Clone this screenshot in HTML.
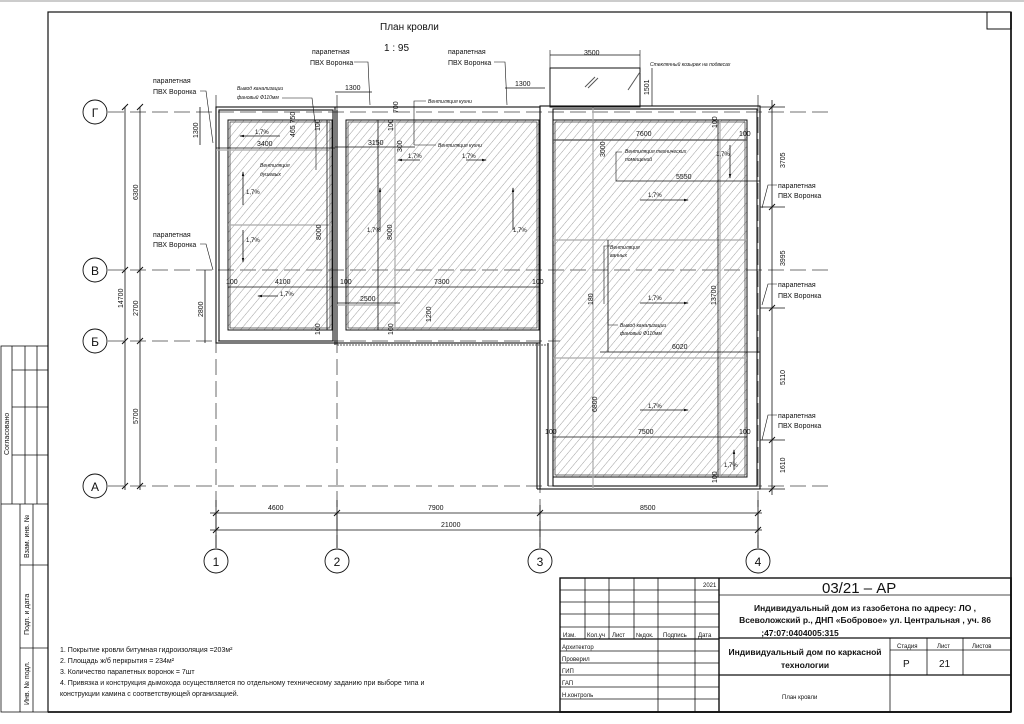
<!DOCTYPE html>
<html><head><meta charset="utf-8"><style>
html,body{margin:0;padding:0;background:#fff;}
svg{display:block;}
text{font-family:"Liberation Sans","DejaVu Sans",sans-serif;fill:#111;}
</style></head><body>
<svg width="1024" height="724" viewBox="0 0 1024 724" xmlns="http://www.w3.org/2000/svg">
<defs>
<pattern id="h" patternUnits="userSpaceOnUse" width="6" height="6" patternTransform="rotate(40)">
<line x1="0" y1="0" x2="0" y2="6" stroke="#888" stroke-width="0.8"/>
</pattern>
<marker id="a" markerWidth="6" markerHeight="6" refX="5" refY="3" orient="auto"><path d="M0,1.5 L6,3 L0,4.5z" fill="#111"/></marker>
</defs>
<rect width="1024" height="724" fill="#fff"/>
<line x1="0" y1="1" x2="1024" y2="1" stroke="#999" stroke-width="1"/>
<rect x="48" y="12" width="963" height="700" fill="none" stroke="#111" stroke-width="1.2"/>
<line x1="1011" y1="12" x2="1011" y2="712" stroke="#333" stroke-width="2"/>
<line x1="48" y1="712" x2="1011" y2="712" stroke="#333" stroke-width="2"/>
<rect x="987" y="12" width="24" height="17" fill="none" stroke="#111"/>
<g stroke="#111" stroke-width="0.8" fill="none">
<rect x="1" y="346" width="47" height="366"/>
<line x1="12" y1="346" x2="12" y2="504"/><line x1="25" y1="346" x2="25" y2="504"/><line x1="37" y1="346" x2="37" y2="504"/>
<line x1="12" y1="370" x2="48" y2="370"/><line x1="12" y1="407" x2="48" y2="407"/><line x1="12" y1="455" x2="48" y2="455"/>
<line x1="1" y1="504" x2="48" y2="504"/>
<line x1="20" y1="504" x2="20" y2="712"/><line x1="33" y1="504" x2="33" y2="712"/>
<line x1="20" y1="565" x2="48" y2="565"/><line x1="20" y1="648" x2="48" y2="648"/>
</g>
<g font-size="7">
<text transform="translate(9,455) rotate(-90)">Согласовано</text>
<text transform="translate(29,558) rotate(-90)">Взам. инв. №</text>
<text transform="translate(29,635) rotate(-90)">Подп. и дата</text>
<text transform="translate(29,705) rotate(-90)">Инв. № подл.</text>
</g>
<text x="380" y="30" font-size="10">План кровли</text>
<text x="384" y="51" font-size="10">1 : 95</text>

<g stroke="#444" stroke-width="0.8" stroke-dasharray="16,6" fill="none">
<line x1="108" y1="112" x2="830" y2="112"/>
<line x1="108" y1="270" x2="830" y2="270"/>
<line x1="108" y1="341" x2="560" y2="341"/>
<line x1="108" y1="486" x2="830" y2="486"/>
<line x1="216" y1="95" x2="216" y2="548"/>
<line x1="337" y1="95" x2="337" y2="548"/>
<line x1="540" y1="345" x2="540" y2="548"/>
<line x1="758" y1="95" x2="758" y2="548"/>
</g>
<g fill="#fff" stroke="#111" stroke-width="0.9">
<circle cx="95" cy="112" r="12"/><circle cx="95" cy="270" r="12"/><circle cx="95" cy="341" r="12"/><circle cx="95" cy="486" r="12"/>
<circle cx="216" cy="561" r="12"/><circle cx="337" cy="561" r="12"/><circle cx="540" cy="561" r="12"/><circle cx="758" cy="561" r="12"/>
</g>
<g font-size="12" text-anchor="middle">
<text x="95" y="117">Г</text><text x="95" y="275">В</text><text x="95" y="346">Б</text><text x="95" y="491">А</text>
<text x="216" y="566">1</text><text x="337" y="566">2</text><text x="540" y="566">3</text><text x="758" y="566">4</text>
</g>

<g fill="none" stroke="#111" stroke-width="1.1">
<rect x="216" y="107" width="324" height="236"/>
<rect x="219" y="110" width="114" height="231"/>
<line x1="335" y1="107" x2="335" y2="345"/>
<line x1="337" y1="110" x2="337" y2="345"/>
<rect x="540" y="106" width="220" height="383"/>
<rect x="553" y="109" width="204" height="377"/>
<line x1="537" y1="343" x2="537" y2="489"/><line x1="537" y1="489" x2="540" y2="489"/>
<line x1="548" y1="343" x2="548" y2="486"/>
</g>
<line x1="337" y1="345" x2="548" y2="345" stroke="#555" stroke-dasharray="2,1"/>
<g stroke="#111" stroke-width="1">
<rect x="228" y="120" width="104" height="210" fill="url(#h)"/>
<rect x="346" y="120" width="193" height="210" fill="url(#h)"/>
<rect x="553" y="120" width="194" height="357" fill="url(#h)"/>
</g>
<g fill="none" stroke="#111" stroke-width="0.6">
<rect x="230" y="122" width="100" height="206"/>
<rect x="348" y="122" width="189" height="206"/>
<rect x="555" y="122" width="190" height="353"/>
</g>
<g stroke="#aaa" stroke-width="1.2">
<line x1="228" y1="225" x2="332" y2="225"/>
<line x1="395" y1="120" x2="395" y2="330"/>
<line x1="553" y1="240" x2="747" y2="240"/>
<line x1="553" y1="358" x2="747" y2="358"/>
<line x1="720" y1="120" x2="720" y2="477"/>
<line x1="593" y1="107" x2="593" y2="489"/>
<line x1="553" y1="140" x2="747" y2="140"/>
<line x1="216" y1="150" x2="332" y2="150"/>
<line x1="337" y1="305" x2="395" y2="305"/>
</g>
<rect x="550" y="68" width="90" height="39" fill="none" stroke="#111"/>
<line x1="550" y1="55" x2="640" y2="55" stroke="#111" stroke-width="0.8"/>
<line x1="550" y1="50" x2="550" y2="68" stroke="#111" stroke-width="0.6"/>
<line x1="640" y1="50" x2="640" y2="68" stroke="#111" stroke-width="0.6"/>
<line x1="585" y1="87" x2="595" y2="77" stroke="#555"/><line x1="588" y1="88" x2="598" y2="78" stroke="#555"/><line x1="628" y1="90" x2="640" y2="72" stroke="#555"/>
<line x1="652" y1="68" x2="652" y2="106" stroke="#111" stroke-width="0.7"/>
<g font-size="7">
<text x="584" y="55">3500</text>
<text transform="translate(649,95) rotate(-90)">1501</text>
<text x="650" y="66" font-size="5" font-style="italic">Стеклянный козырек на подвесах</text>
</g>

<g stroke="#111" stroke-width="0.8" fill="none">
<line x1="125" y1="107" x2="125" y2="490"/>
<line x1="140" y1="107" x2="140" y2="490"/>
<line x1="200" y1="107" x2="200" y2="145"/>
<line x1="205" y1="270" x2="205" y2="343"/>
<line x1="210" y1="513" x2="762" y2="513"/>
<line x1="210" y1="530" x2="762" y2="530"/>
<line x1="216" y1="500" x2="216" y2="548"/><line x1="337" y1="500" x2="337" y2="548"/><line x1="540" y1="505" x2="540" y2="548"/><line x1="758" y1="500" x2="758" y2="548"/>
<line x1="772" y1="100" x2="772" y2="495"/>
<line x1="760" y1="107" x2="785" y2="107"/><line x1="760" y1="207" x2="785" y2="207"/><line x1="760" y1="308" x2="785" y2="308"/><line x1="760" y1="440" x2="785" y2="440"/><line x1="760" y1="489" x2="785" y2="489"/>
<line x1="335" y1="92" x2="372" y2="92"/>
<line x1="505" y1="88" x2="545" y2="88"/>
<line x1="216" y1="148" x2="335" y2="148"/>
<line x1="335" y1="147" x2="415" y2="147"/>
<line x1="228" y1="287" x2="539" y2="287"/>
<line x1="337" y1="303" x2="400" y2="303"/>
<line x1="616" y1="181" x2="760" y2="181"/>
<line x1="600" y1="352" x2="760" y2="352"/>
<line x1="553" y1="437" x2="747" y2="437"/>
<line x1="553" y1="140" x2="747" y2="140"/>
<line x1="327" y1="120" x2="327" y2="330"/>
<line x1="378" y1="120" x2="378" y2="330"/>
<line x1="718" y1="120" x2="718" y2="477"/>
<line x1="608" y1="240" x2="608" y2="352"/>
</g>
<g stroke="#111" stroke-width="1">
<path d="M122,110l6,-6M122,273l6,-6M122,344l6,-6M122,489l6,-6M137,110l6,-6M137,273l6,-6M137,344l6,-6M137,489l6,-6"/>
<path d="M213,516l6,-6M334,516l6,-6M537,516l6,-6M755,516l6,-6M213,533l6,-6M755,533l6,-6"/>
<path d="M769,110l6,-6M769,210l6,-6M769,311l6,-6M769,443l6,-6M769,492l6,-6"/>
</g>
<g font-size="7">
<text transform="translate(123,308) rotate(-90)">14700</text>
<text transform="translate(138,200) rotate(-90)">6300</text>
<text transform="translate(138,316) rotate(-90)">2700</text>
<text transform="translate(138,424) rotate(-90)">5700</text>
<text transform="translate(198,138) rotate(-90)">1300</text>
<text transform="translate(203,317) rotate(-90)">2800</text>
<text x="268" y="510">4600</text><text x="428" y="510">7900</text><text x="640" y="510">8500</text>
<text x="441" y="527">21000</text>
<text transform="translate(785,168) rotate(-90)">3705</text>
<text transform="translate(785,266) rotate(-90)">3995</text>
<text transform="translate(785,385) rotate(-90)">5110</text>
<text transform="translate(785,473) rotate(-90)">1610</text>
<text x="345" y="90">1300</text><text x="515" y="86">1300</text>
<text x="257" y="146">3400</text><text x="368" y="145">3150</text>
<text x="275" y="284">4100</text><text x="434" y="284">7300</text>
<text x="226" y="284">100</text><text x="340" y="284">100</text><text x="532" y="284">100</text>
<text x="360" y="301">2500</text>
<text x="636" y="136">7600</text><text x="676" y="179">5550</text>
<text x="672" y="349">6020</text><text x="638" y="434">7500</text>
<text x="545" y="434">100</text><text x="739" y="434">100</text>
<text x="739" y="136">100</text>
<text transform="translate(321,240) rotate(-90)">8000</text>
<text transform="translate(392,240) rotate(-90)">8000</text>
<text transform="translate(605,157) rotate(-90)">3000</text>
<text transform="translate(716,305) rotate(-90)">13700</text>
<text transform="translate(597,412) rotate(-90)">6800</text>
<text transform="translate(593,305) rotate(-90)">180</text>
<text transform="translate(398,113) rotate(-90)">700</text>
<text transform="translate(402,152) rotate(-90)">300</text>
<text transform="translate(431,322) rotate(-90)">1200</text>
<text transform="translate(320,131) rotate(-90)">100</text>
<text transform="translate(393,131) rotate(-90)">100</text>
<text transform="translate(717,128) rotate(-90)">100</text>
<text transform="translate(320,335) rotate(-90)">100</text>
<text transform="translate(393,335) rotate(-90)">100</text>
<text transform="translate(717,483) rotate(-90)">100</text>
<text transform="translate(295,137) rotate(-90)">465 750</text>
</g>
<g stroke="#111" stroke-width="0.8" marker-end="url(#a)">
<line x1="280" y1="136" x2="240" y2="136"/>
<line x1="243" y1="205" x2="243" y2="172"/>
<line x1="243" y1="230" x2="243" y2="262"/>
<line x1="278" y1="296" x2="258" y2="296"/>
<line x1="420" y1="160" x2="398" y2="160"/>
<line x1="466" y1="160" x2="486" y2="160"/>
<line x1="380" y1="230" x2="380" y2="188"/>
<line x1="513" y1="230" x2="513" y2="188"/>
<line x1="640" y1="200" x2="688" y2="200"/>
<line x1="640" y1="303" x2="688" y2="303"/>
<line x1="640" y1="410" x2="688" y2="410"/>
<line x1="730" y1="145" x2="730" y2="178"/>
<line x1="734" y1="470" x2="734" y2="450"/>
</g>
<g font-size="6">
<text x="255" y="134">1,7%</text><text x="246" y="194">1,7%</text><text x="246" y="242">1,7%</text>
<text x="280" y="296">1,7%</text><text x="408" y="158">1,7%</text><text x="462" y="158">1,7%</text>
<text x="367" y="232">1,7%</text><text x="513" y="232">1,7%</text>
<text x="648" y="197">1,7%</text><text x="648" y="300">1,7%</text><text x="648" y="408">1,7%</text>
<text x="716" y="156">1,7%</text><text x="724" y="467">1,7%</text>
</g>
<g font-size="5" font-style="italic">
<text x="237" y="90">Вывод канализации</text><text x="237" y="99">фановый Ф110мм</text>
<text x="428" y="103">Вентиляция кухни</text>
<text x="438" y="147">Вентиляция кухни</text>
<text x="260" y="167">Вентиляция</text><text x="260" y="176">душевых</text>
<text x="625" y="153">Вентиляция технических</text><text x="625" y="161">помещений</text>
<text x="610" y="249">Вентиляция</text><text x="610" y="257">ванных</text>
<text x="620" y="327">Вывод канализации</text><text x="620" y="335">фановый Ф110мм</text>
</g>
<g stroke="#111" stroke-width="0.6" fill="none">
<path d="M282,98 L312,98 L316,130 L316,170"/>
<path d="M426,101 L414,101 L414,145"/>
<path d="M436,145 L414,145"/>
<path d="M622,152 L616,152 L616,181"/>
<path d="M610,246 L604,246 L604,304"/>
<path d="M618,325 L608,325 L608,312"/>
</g>
<g font-size="7">
<text x="153" y="83">парапетная</text><text x="153" y="94">ПВХ Воронка</text>
<text x="153" y="237">парапетная</text><text x="153" y="247">ПВХ Воронка</text>
<text x="312" y="54">парапетная</text><text x="310" y="65">ПВХ Воронка</text>
<text x="448" y="54">парапетная</text><text x="448" y="65">ПВХ Воронка</text>
<text x="778" y="188">парапетная</text><text x="778" y="198">ПВХ Воронка</text>
<text x="778" y="287">парапетная</text><text x="778" y="298">ПВХ Воронка</text>
<text x="778" y="418">парапетная</text><text x="778" y="428">ПВХ Воронка</text>
</g>
<g stroke="#111" stroke-width="0.6" fill="none">
<path d="M200,91 L206,91 L213,143"/>
<path d="M200,244 L206,244 L213,270"/>
<path d="M354,62 L368,62 L370,105"/>
<path d="M494,62 L505,62 L507,105"/>
<path d="M777,185 L768,185 L762,208"/>
<path d="M777,284 L768,284 L762,305"/>
<path d="M777,415 L768,415 L762,440"/>
</g>

<g font-size="7">
<text x="60" y="652">1. Покрытие кровли битумная гидроизоляция =203м²</text>
<text x="60" y="663">2. Площадь ж/б перкрытия = 234м²</text>
<text x="60" y="674">3. Количество парапетных воронок = 7шт</text>
<text x="60" y="685">4. Привязка и конструкция дымохода осуществляется по отдельному техническому заданию при выборе типа и</text>
<text x="60" y="696">конструкции камина с соответствующей организацией.</text>
</g>

<g stroke="#111" stroke-width="0.8" fill="none">
<rect x="560" y="578" width="451" height="134" stroke-width="1.4"/>
<line x1="719" y1="578" x2="719" y2="712" stroke-width="1.4"/>
<line x1="585" y1="578" x2="585" y2="639"/><line x1="609" y1="578" x2="609" y2="639"/><line x1="634" y1="578" x2="634" y2="639"/>
<line x1="658" y1="578" x2="658" y2="712"/><line x1="695" y1="578" x2="695" y2="712"/>
<line x1="560" y1="590" x2="719" y2="590"/><line x1="560" y1="602" x2="719" y2="602"/><line x1="560" y1="614" x2="719" y2="614"/><line x1="560" y1="627" x2="719" y2="627"/>
<line x1="560" y1="639" x2="719" y2="639" stroke-width="1.2"/>
<line x1="560" y1="651" x2="719" y2="651"/><line x1="560" y1="663" x2="719" y2="663"/><line x1="560" y1="675" x2="719" y2="675"/><line x1="560" y1="687" x2="719" y2="687"/><line x1="560" y1="699" x2="719" y2="699"/>
<line x1="719" y1="595" x2="1011" y2="595"/>
<line x1="719" y1="638" x2="1011" y2="638" stroke-width="1.2"/>
<line x1="719" y1="675" x2="1011" y2="675" stroke-width="1.2"/>
<line x1="890" y1="638" x2="890" y2="712"/>
<line x1="927" y1="638" x2="927" y2="675"/><line x1="963" y1="638" x2="963" y2="675"/>
<line x1="890" y1="650" x2="1011" y2="650"/>
</g>
<g font-size="6">
<text x="703" y="587">2021</text>
<text x="563" y="637">Изм.</text><text x="587" y="637">Кол.уч</text><text x="612" y="637">Лист</text><text x="636" y="637">№док.</text><text x="663" y="637">Подпись</text><text x="698" y="637">Дата</text>
<text x="562" y="649">Архитектор</text><text x="562" y="661">Проверил</text><text x="562" y="673">ГИП</text><text x="562" y="685">ГАП</text><text x="562" y="697">Н.контроль</text>
<text x="897" y="648">Стадия</text><text x="937" y="648">Лист</text><text x="972" y="648">Листов</text>
<text x="782" y="699">План кровли</text>
</g>
<text x="822" y="593" font-size="15">03/21 – АР</text>
<g font-size="8.5" text-anchor="middle" font-weight="bold">
<text x="865" y="611">Индивидуальный дом из газобетона по адресу: ЛО ,</text>
<text x="865" y="623">Всеволожский р., ДНП «Бобровое»  ул. Центральная , уч. 86</text>
<text x="800" y="636">;47:07:0404005:315</text>
<text x="805" y="655">Индивидуальный дом по каркасной</text>
<text x="805" y="668">технологии</text>
</g>
<text x="903" y="667" font-size="10">Р</text>
<text x="939" y="667" font-size="10">21</text>
</svg>
</body></html>
